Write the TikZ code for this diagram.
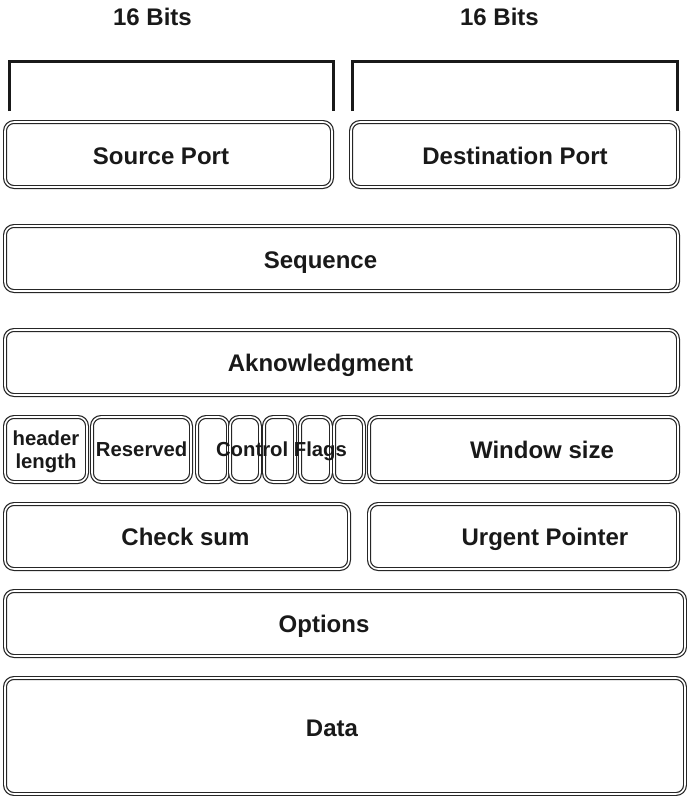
\documentclass[tikz,border=0pt]{standalone}
\usepackage{fontspec}
\setmainfont{Liberation Sans}
\usetikzlibrary{fit}
\begin{document}
\begin{tikzpicture}[x=1pt,y=-1pt,
  field/.style={draw=black!85, double=white, line width=1.2pt, double distance=1.6pt,
                rounded corners=9pt, inner sep=0pt, outer sep=0pt},
  lbl/.style={font=\bfseries\fontsize{24}{28}\selectfont, anchor=base, inner sep=0pt, text=black!90},
  small/.style={font=\bfseries\fontsize{20.3}{23}\selectfont, anchor=base, inner sep=0pt, text=black!90},
  bracket/.style={line width=3pt, black!90, line join=miter}]
\useasboundingbox (0,0) rectangle (687,796);

% width markers
\node[lbl] (bitsL) at (152.5,25) {16 Bits};
\node[lbl] (bitsR) at (499.5,25) {16 Bits};
\coordinate (la) at (9,111);   \coordinate (lb) at (9,61);
\coordinate (lc) at (333.5,61); \coordinate (ld) at (333.5,111);
\coordinate (ra) at (352.5,111); \coordinate (rb) at (352.5,61);
\coordinate (rc) at (677,61);   \coordinate (rd) at (677,111);
\draw[bracket] (la) -- (lb) -- (lc) -- (ld);
\draw[bracket] (ra) -- (rb) -- (rc) -- (rd);

% header fields
\node[field, fit={(5,122) (332,187)}] (src) {};
\node[field, fit={(351,122) (678,187)}] (dst) {};
\node[field, fit={(5,226) (678,291)}] (seq) {};
\node[field, fit={(5,330) (678,395)}] (ack) {};
\node[field, fit={(5,417) (87,482)}] (hlen) {};
\node[field, fit={(92,417) (191,482)}] (resv) {};
\node[field, fit={(197,417) (228,482)}] (flag1) {};
\node[field, fit={(230,417) (260,482)}] (flag2) {};
\node[field, fit={(264,417) (295,482)}] (flag3) {};
\node[field, fit={(300,417) (331,482)}] (flag4) {};
\node[field, fit={(334,417) (364,482)}] (flag5) {};
\node[field, fit={(369,417) (678,482)}] (win) {};
\node[field, fit={(5,504) (349,569)}] (chk) {};
\node[field, fit={(369,504) (678,569)}] (urg) {};
\node[field, fit={(5,591) (685,656)}] (opt) {};
\node[field, fit={(5,678) (685,794)}] (data) {};

% field names
\node[lbl] (srcT) at (161,164) {Source Port};
\node[lbl] (dstT) at (515,164) {Destination Port};
\node[lbl] (seqT) at (320.5,268.6) {Sequence};
\node[lbl] (ackT) at (320.5,371.6) {Aknowledgment};
\node[small] (hlenT1) at (46,445) {header};
\node[small] (hlenT2) at (46,468) {length};
\node[small] (resvT) at (141.7,456.7) {Reserved};
\node[small] (flagT) at (281.5,456.7) {Control Flags};
\node[lbl] (winT) at (542,458.6) {Window size};
\node[lbl] (chkT) at (185.5,545.6) {Check sum};
\node[lbl] (urgT) at (545,545.6) {Urgent Pointer};
\node[lbl] (optT) at (324,632.6) {Options};
\node[lbl] (dataT) at (332,736.6) {Data};
\end{tikzpicture}
\end{document}
